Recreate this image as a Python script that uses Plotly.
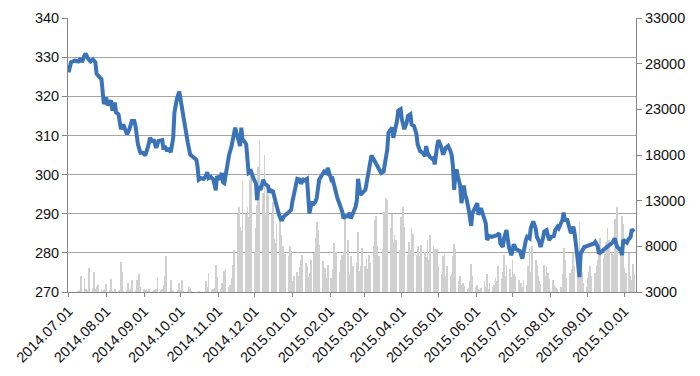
import datetime as dt
import pandas as pd
import plotly.graph_objects as go

# ---- price line (days since 2014-07-01, value) ----
start = dt.datetime(2014, 7, 1)
price_day = [0, 2, 5, 8, 10, 11, 13, 14, 16, 18, 20, 22, 23, 26, 27, 29, 31, 32, 35, 36,
             38, 39, 41, 43, 45, 47, 48, 50, 52, 54, 55, 57, 58, 59, 61, 63, 65, 67, 69, 70,
             72, 74, 77, 78, 79, 81, 82, 84, 86, 87, 89, 91, 92, 94, 96, 98, 100, 102, 105, 106,
             107, 109, 111, 113, 114, 115, 117, 119, 121, 122, 124, 126, 127, 128, 130, 132, 134, 137, 138, 139,
             141, 142, 143, 145, 146, 148, 150, 152, 154, 155, 156, 158, 160, 161, 164, 165, 166, 168, 170, 171,
             173, 175, 176, 177, 180, 182, 183, 184, 186, 188, 190, 191, 193, 194, 196, 197, 198, 200, 201, 203,
             204, 206, 208, 210, 212, 213, 215, 216, 217, 219, 221, 223, 225, 226, 228, 230, 231, 232, 234, 236,
             237, 238, 240, 242, 244, 245, 247, 249, 251, 253, 254, 256, 257, 259, 260, 262, 263, 265, 266, 267,
             268, 270, 271, 273, 274, 276, 278, 279, 281, 282, 284, 286, 287, 289, 291, 293, 294, 295, 297, 299,
             300, 301, 303, 304, 306, 307, 308, 310, 312, 314, 315, 316, 317, 318, 319, 320, 322, 323, 325, 326,
             327, 329, 331, 332, 334, 336, 337, 339, 340, 342, 343, 344, 346, 348, 350, 352, 354, 355, 357, 358,
             360, 361, 362, 364, 366, 368, 370, 371, 373, 375, 376, 377, 379, 380, 382, 384, 385, 387, 388, 390,
             391, 393, 395, 397, 399, 400, 402, 403, 405, 406, 407, 408, 410, 411, 412, 413, 415, 416, 418, 419,
             420, 421, 423, 424, 426, 428, 429, 432, 433, 435, 436, 438, 440, 442, 444, 445, 447, 449, 450, 451,
             454, 455, 456, 458, 459, 460, 462, 463, 465]
price = [326.1, 328.7, 329.1, 328.9, 329.7, 328.7, 330.4, 330.9, 329.6, 328.9, 329.4, 328.7, 325.7, 324.6, 324.4, 318.0, 319.7, 317.7, 318.9, 316.3,
         318.4, 315.9, 315.4, 311.6, 312.8, 311.1, 310.3, 311.6, 313.7, 313.7, 312.4, 307.7, 306.4, 305.6, 305.6, 304.9, 306.8, 309.4, 308.3, 309.0,
         306.8, 308.6, 308.8, 306.4, 307.3, 306.0, 306.8, 305.7, 309.4, 315.8, 319.3, 321.2, 319.3, 315.0, 311.6, 308.1, 305.1, 304.5, 303.8, 302.1,
         298.7, 299.1, 298.9, 299.7, 300.6, 299.1, 299.4, 298.7, 296.0, 299.6, 298.7, 300.4, 298.0, 297.8, 301.7, 305.1, 307.3, 312.0, 310.7, 309.8,
         307.3, 312.0, 309.0, 308.3, 307.7, 300.4, 300.8, 299.0, 297.8, 293.5, 297.0, 296.1, 298.7, 297.8, 297.0, 295.4, 296.0, 295.7, 293.1, 291.8,
         289.7, 288.2, 288.8, 289.3, 290.1, 290.5, 291.0, 293.1, 295.7, 298.9, 298.7, 297.7, 298.7, 298.5, 298.9, 295.3, 290.1, 293.1, 292.3, 293.1,
         294.0, 298.7, 300.0, 300.8, 300.4, 301.7, 299.7, 298.7, 298.9, 296.1, 294.0, 292.3, 290.5, 288.8, 289.4, 289.3, 290.3, 288.8, 290.5, 291.8,
         293.5, 298.9, 294.8, 295.3, 296.1, 297.8, 302.1, 304.9, 303.8, 302.6, 302.1, 300.8, 300.4, 300.8, 303.0, 306.4, 310.7, 311.4, 312.0, 309.4,
         310.7, 313.7, 316.3, 316.7, 314.1, 311.6, 313.3, 315.0, 315.4, 312.8, 312.4, 310.3, 307.7, 306.0, 305.6, 304.7, 307.3, 305.6, 304.5, 304.0,
         304.2, 302.6, 307.3, 308.8, 307.3, 306.0, 305.1, 306.8, 307.3, 306.0, 304.9, 302.1, 296.1, 300.4, 301.3, 299.6, 297.0, 292.7, 297.2, 294.8,
         294.0, 291.0, 286.9, 290.1, 291.4, 292.7, 289.7, 291.4, 290.5, 288.4, 287.5, 283.3, 284.3, 284.1, 284.3, 284.5, 285.0, 282.4, 281.5, 283.7,
         285.8, 283.7, 281.5, 279.4, 282.2, 280.9, 280.7, 280.5, 278.5, 282.4, 283.3, 284.1, 283.7, 286.3, 288.0, 286.3, 284.1, 282.8, 281.5, 283.7,
         285.4, 285.8, 283.3, 284.1, 284.3, 285.7, 286.7, 286.3, 287.5, 288.4, 290.3, 288.4, 288.4, 287.1, 286.3, 285.0, 286.7, 285.0, 279.8, 276.0,
         273.8, 279.8, 281.1, 281.5, 281.7, 281.9, 282.2, 282.4, 282.8, 281.7, 279.8, 280.3, 280.7, 281.5, 281.7, 282.2, 282.6, 283.7, 282.6, 281.5,
         280.7, 279.4, 283.3, 282.8, 282.6, 283.3, 284.0, 286.0, 285.4]

# ---- volume per weekday, month by month ----
vol_2014_07 = [2900, 2900, 2800, 2900, 2900, 3000, 3100, 3200, 4750, 4400, 3300, 3100, 3200, 5600, 3400, 5200, 3300, 3500, 3800, 3300, 3100, 3200, 3300]
vol_2014_08 = [3900, 3200, 4400, 3100, 3000, 3300, 3100, 3200, 6300, 5200, 3100, 3200, 4000, 3200, 3300, 4300, 3200, 4300, 3700, 5000, 3600]
vol_2014_09 = [3300, 3200, 3300, 3100, 3300, 3100, 3200, 3100, 3300, 4500, 3200, 3300, 3800, 4700, 6900, 3100, 4300, 3200, 3100, 3000, 3200, 4000]
vol_2014_10 = [3200, 4300, 3100, 3000, 3100, 3600, 3400, 3100, 3000, 2900, 3000, 3100, 3000, 3000, 3100, 4200, 3600, 5100, 3200, 3300, 3400, 6000, 4600]
vol_2014_11 = [3300, 4000, 3400, 5300, 5500, 3600, 3800, 4500, 6000, 7600, 11500, 12300, 10100, 9700, 15100, 11500, 12300, 11200, 15300, 16000]
vol_2014_12 = [7300, 10000, 12500, 16700, 19600, 13800, 18000, 11400, 14200, 13600, 11500, 12800, 8800, 8400, 10500, 11800, 9200, 8000, 6500, 7200, 6900, 8000, 7500]
vol_2015_01 = [4200, 4700, 5200, 4800, 5700, 6500, 7000, 6200, 5800, 4600, 5100, 6500, 7300, 8900, 10700, 9800, 8200, 6400, 5100, 5600, 4500, 6000]
vol_2015_02 = [4500, 5500, 8400, 6000, 7400, 5200, 6500, 7000, 7400, 10900, 8700, 5000, 6900, 4800, 5800, 6200, 9600, 5300, 5800, 7800]
vol_2015_03 = [5800, 6700, 5500, 7000, 6200, 8000, 10900, 11300, 8000, 6900, 7700, 11800, 9500, 13300, 13100, 10000, 11500, 8500, 9200, 8700, 7600, 11200]
vol_2015_04 = [9000, 12300, 10100, 7000, 8500, 7600, 10000, 9400, 7000, 8000, 6900, 6500, 8200, 7400, 6800, 8700, 6500, 9200, 8000, 7700, 6000, 7700]
vol_2015_05 = [5900, 5000, 6900, 7200, 4800, 5900, 4700, 5000, 6900, 8300, 7700, 4200, 4700, 3800, 4000, 3700, 3300, 3400, 4200, 6100, 4800]
vol_2015_06 = [3500, 3800, 3300, 3200, 3400, 4200, 3600, 5000, 3300, 4000, 3500, 3800, 4500, 4200, 5900, 4400, 5200, 7000, 4800, 6000, 5500, 4600]
vol_2015_07 = [6500, 5000, 4700, 4300, 3800, 4000, 3600, 4300, 3800, 5900, 7700, 5200, 8000, 6500, 6000, 4700, 4200, 3900, 6000, 4800, 5800, 5100, 4400]
vol_2015_08 = [4300, 3800, 3600, 3400, 3300, 3500, 5000, 7800, 6500, 4500, 5100, 4600, 5500, 7300, 5800, 7000, 10700, 7300, 5200, 4000, 3600]
vol_2015_09 = [4500, 5200, 5900, 4800, 5100, 6000, 6500, 7400, 8900, 6700, 7200, 8500, 10000, 8700, 7300, 7000, 11000, 9000, 12300, 6900, 11300, 10500]
vol_2015_10 = [5600, 5100, 7300, 4800, 4300, 6100, 5000]

volume = (vol_2014_07 + vol_2014_08 + vol_2014_09 + vol_2014_10 + vol_2014_11 + vol_2014_12 +
          vol_2015_01 + vol_2015_02 + vol_2015_03 + vol_2015_04 + vol_2015_05 + vol_2015_06 +
          vol_2015_07 + vol_2015_08 + vol_2015_09 + vol_2015_10)
trade_dates = pd.bdate_range("2014-07-01", "2015-10-09")
n = min(len(trade_dates), len(volume))
trade_dates = trade_dates[:n]
volume = volume[:n]

price_dates = [start + dt.timedelta(days=d) for d in price_day]

tick_dates = pd.date_range("2014-07-01", "2015-10-01", freq="MS")
tick_text = [d.strftime("%Y.%m.%d") for d in tick_dates]

font = dict(family="Liberation Sans, Arial, sans-serif", size=14.5, color="#111111")
axis_col = "#868686"

fig = go.Figure()
fig.add_trace(go.Bar(x=trade_dates, y=volume, yaxis="y",
                     marker=dict(color="#d0d0d0", line=dict(width=0)),
                     width=0.65 * 86400000, hoverinfo="skip"))
fig.add_trace(go.Scatter(x=price_dates, y=price, yaxis="y2", mode="lines",
                         line=dict(color="#3b73b9", width=4)))

# the page body adds an 8px offset, so the figure is placed 8px up/left
fig.update_layout(
    width=692, height=368,
    margin=dict(l=60, r=64, t=10, b=84, autoexpand=False),
    plot_bgcolor="white", paper_bgcolor="white",
    showlegend=False, bargap=0,
    font=font,
    xaxis=dict(type="date", range=["2014-06-30 12:00", "2015-10-10 12:00"],
               tickvals=tick_dates, ticktext=tick_text, tickangle=-45,
               ticks="outside", ticklen=4, tickcolor=axis_col,
               showline=True, linecolor=axis_col, linewidth=1, automargin=False,
               showgrid=False, zeroline=False, tickfont=font),
    yaxis=dict(side="right", range=[3000, 33000], tick0=3000, dtick=5000,
               tickformat="d", automargin=False,
               showgrid=False, zeroline=False, showline=True, linecolor=axis_col,
               ticks="outside", ticklen=5, tickcolor=axis_col, tickfont=font),
    yaxis2=dict(overlaying="y", side="left", range=[270, 340], dtick=10,
                automargin=False,
                showgrid=True, gridcolor="#a6a6a6", gridwidth=1, zeroline=False,
                showline=True, linecolor=axis_col,
                ticks="outside", ticklen=5, tickcolor=axis_col, tickfont=font),
)

fig.write_html("out.html")
